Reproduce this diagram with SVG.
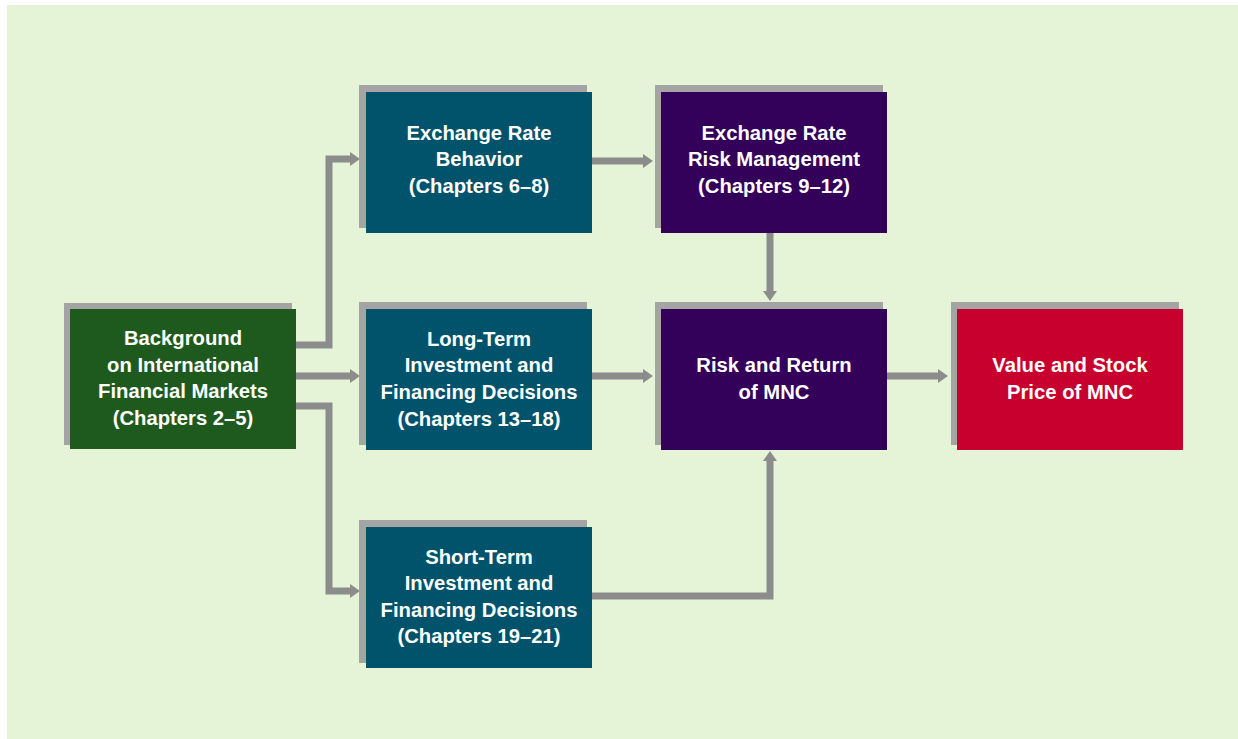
<svg xmlns="http://www.w3.org/2000/svg" width="1238" height="739" viewBox="0 0 1238 739">
  <style>
    .shadow { fill: #a4a4a4; }
    .lbl { font-family: "Liberation Sans", Arial, sans-serif; font-weight: bold; font-size: 21px; fill: #ffffff; text-anchor: middle; }
    .wire { fill: none; stroke: #8c8c8c; stroke-width: 7; stroke-linejoin: miter; }
  </style>
  <defs>
    <marker id="head" viewBox="0 0 10 14" refX="0" refY="7" markerWidth="10" markerHeight="14" markerUnits="userSpaceOnUse" orient="auto">
      <path d="M0,0 L10,7 L0,14 Z" fill="#8c8c8c"/>
    </marker>
  </defs>

  <rect x="0" y="0" width="1238" height="739" fill="#ffffff"/>
  <rect x="7" y="5" width="1231" height="734" fill="#e5f4d7"/>

  <g id="connectors">
    <path class="wire" d="M296,345 H329 V159 H350" marker-end="url(#head)"/>
    <path class="wire" d="M296,376 H350" marker-end="url(#head)"/>
    <path class="wire" d="M296,406 H329 V591 H350" marker-end="url(#head)"/>
    <path class="wire" d="M592,161 H643" marker-end="url(#head)"/>
    <path class="wire" d="M770,233 V291" marker-end="url(#head)"/>
    <path class="wire" d="M592,376 H643" marker-end="url(#head)"/>
    <path class="wire" d="M887,376 H938" marker-end="url(#head)"/>
    <path class="wire" d="M592,596 H770 V461" marker-end="url(#head)"/>
  </g>

  <!-- labels are set in a slightly narrowed bold sans: each label block is squeezed horizontally about its centre -->
  <g id="background-markets">
    <rect class="shadow" x="64" y="303" width="228" height="142"/>
    <rect x="70" y="309" width="226" height="140" fill="#1e5a1e"/>
    <g transform="translate(183 0) scale(0.965 1)">
      <text class="lbl" x="0" y="345">Background</text>
      <text class="lbl" x="0" y="372">on International</text>
      <text class="lbl" x="0" y="398">Financial Markets</text>
      <text class="lbl" x="0" y="425">(Chapters 2–5)</text>
    </g>
  </g>

  <g id="exchange-rate-behavior">
    <rect class="shadow" x="359" y="85" width="228" height="143"/>
    <rect x="366" y="92" width="226" height="141" fill="#00536a"/>
    <g transform="translate(479 0) scale(0.965 1)">
      <text class="lbl" x="0" y="140">Exchange Rate</text>
      <text class="lbl" x="0" y="166">Behavior</text>
      <text class="lbl" x="0" y="193">(Chapters 6–8)</text>
    </g>
  </g>

  <g id="exchange-rate-risk">
    <rect class="shadow" x="655" y="85" width="228" height="143"/>
    <rect x="661" y="92" width="226" height="141" fill="#33005a"/>
    <g transform="translate(774 0) scale(0.965 1)">
      <text class="lbl" x="0" y="140">Exchange Rate</text>
      <text class="lbl" x="0" y="166">Risk Management</text>
      <text class="lbl" x="0" y="193">(Chapters 9–12)</text>
    </g>
  </g>

  <g id="long-term">
    <rect class="shadow" x="359" y="302" width="228" height="143"/>
    <rect x="366" y="309" width="226" height="141" fill="#00536a"/>
    <g transform="translate(479 0) scale(0.965 1)">
      <text class="lbl" x="0" y="346">Long-Term</text>
      <text class="lbl" x="0" y="372">Investment and</text>
      <text class="lbl" x="0" y="399">Financing Decisions</text>
      <text class="lbl" x="0" y="426">(Chapters 13–18)</text>
    </g>
  </g>

  <g id="risk-return">
    <rect class="shadow" x="655" y="302" width="228" height="143"/>
    <rect x="661" y="309" width="226" height="141" fill="#33005a"/>
    <g transform="translate(774 0) scale(0.965 1)">
      <text class="lbl" x="0" y="372">Risk and Return</text>
      <text class="lbl" x="0" y="399">of MNC</text>
    </g>
  </g>

  <g id="value-stock">
    <rect class="shadow" x="951" y="302" width="228" height="143"/>
    <rect x="957" y="309" width="226" height="141" fill="#c8002e"/>
    <g transform="translate(1070 0) scale(0.965 1)">
      <text class="lbl" x="0" y="372">Value and Stock</text>
      <text class="lbl" x="0" y="399">Price of MNC</text>
    </g>
  </g>

  <g id="short-term">
    <rect class="shadow" x="359" y="520" width="228" height="143"/>
    <rect x="366" y="527" width="226" height="141" fill="#00536a"/>
    <g transform="translate(479 0) scale(0.965 1)">
      <text class="lbl" x="0" y="564">Short-Term</text>
      <text class="lbl" x="0" y="590">Investment and</text>
      <text class="lbl" x="0" y="617">Financing Decisions</text>
      <text class="lbl" x="0" y="643">(Chapters 19–21)</text>
    </g>
  </g>
</svg>
